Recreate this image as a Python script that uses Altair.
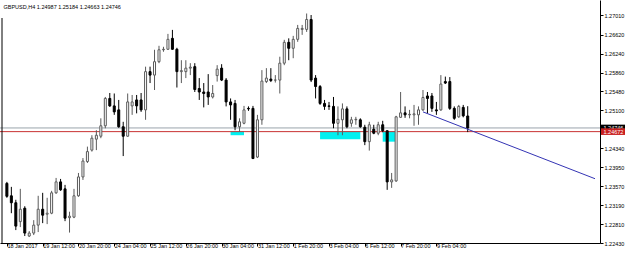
import altair as alt
import pandas as pd

symbol = "GBPUSD,H4"

opens = [1.2363, 1.2338, 1.2324, 1.2286, 1.2313, 1.2257, 1.2263, 1.2279, 1.2311, 1.2301,
         1.2303, 1.2344, 1.2366, 1.2352, 1.2294, 1.2295, 1.2338, 1.2376, 1.2407, 1.2430,
         1.2452, 1.2458, 1.2479, 1.2534, 1.2519, 1.2511, 1.2477, 1.2458, 1.2519, 1.2531,
         1.2531, 1.2511, 1.2588, 1.2581, 1.2608, 1.2632, 1.2633, 1.2655, 1.2633, 1.2588,
         1.2588, 1.2595, 1.2598, 1.2554, 1.2547, 1.2547, 1.2537, 1.2580, 1.2595, 1.2571,
         1.2527, 1.2524, 1.2477, 1.2484, 1.2514, 1.2514, 1.2416, 1.2491, 1.2568, 1.2573,
         1.2571, 1.2571, 1.2605, 1.2647, 1.2635, 1.2653, 1.2673, 1.2673, 1.2693, 1.2575,
         1.2558, 1.2524, 1.2519, 1.2518, 1.2484, 1.2491, 1.2513, 1.2484, 1.2491, 1.2491,
         1.2476, 1.2447, 1.2472, 1.2464, 1.2481, 1.2469, 1.2366, 1.2368, 1.2496, 1.2505,
         1.2501, 1.2501, 1.2501, 1.2511, 1.2539, 1.2539, 1.2511, 1.2511, 1.2568, 1.2568,
         1.2514, 1.2497, 1.2516, 1.24987]
highs = [1.2366, 1.2356, 1.2330, 1.2352, 1.2317, 1.2267, 1.2289, 1.2338, 1.2344, 1.2334,
         1.2348, 1.2374, 1.2372, 1.2360, 1.2306, 1.2352, 1.2384, 1.2414, 1.2437, 1.2460,
         1.2470, 1.2494, 1.2537, 1.2545, 1.2544, 1.2531, 1.2487, 1.2544, 1.2541, 1.2541,
         1.2545, 1.2598, 1.2598, 1.2632, 1.2640, 1.2638, 1.2664, 1.2672, 1.2636, 1.2611,
         1.2611, 1.2605, 1.2605, 1.2575, 1.2565, 1.2583, 1.2561, 1.2601, 1.2603, 1.2575,
         1.2534, 1.2531, 1.2494, 1.2519, 1.2518, 1.2519, 1.2501, 1.2591, 1.2595, 1.2595,
         1.2581, 1.2618, 1.2652, 1.2655, 1.2660, 1.2682, 1.2682, 1.2705, 1.2702, 1.2581,
         1.2561, 1.2531, 1.2527, 1.2537, 1.2518, 1.2524, 1.2518, 1.2497, 1.2497, 1.2494,
         1.2481, 1.2487, 1.2481, 1.2487, 1.2489, 1.2470, 1.2384, 1.2499, 1.2547, 1.2518,
         1.2511, 1.2521, 1.2518, 1.2551, 1.2547, 1.2545, 1.2527, 1.2581, 1.2578, 1.2577,
         1.2518, 1.2521, 1.2521, 1.25184]
lows = [1.2334, 1.2303, 1.2269, 1.2275, 1.2257, 1.2255, 1.2259, 1.2265, 1.2283, 1.2281,
        1.2301, 1.2342, 1.2348, 1.2287, 1.2264, 1.2293, 1.2336, 1.2370, 1.2404, 1.2427,
        1.2430, 1.2454, 1.2474, 1.2517, 1.2501, 1.2475, 1.2418, 1.2457, 1.2501, 1.2504,
        1.2507, 1.2491, 1.2565, 1.2551, 1.2605, 1.2628, 1.2632, 1.2632, 1.2556, 1.2565,
        1.2575, 1.2581, 1.2547, 1.2531, 1.2516, 1.2521, 1.2534, 1.2568, 1.2569, 1.2518,
        1.2491, 1.2470, 1.2467, 1.2482, 1.2509, 1.2412, 1.2414, 1.2481, 1.2565, 1.2567,
        1.2566, 1.2544, 1.2601, 1.2611, 1.2615, 1.2648, 1.2662, 1.2668, 1.2567, 1.2534,
        1.2521, 1.2511, 1.2511, 1.2474, 1.2460, 1.2460, 1.2474, 1.2477, 1.2481, 1.2475,
        1.2440, 1.2429, 1.2462, 1.2460, 1.2466, 1.2350, 1.2354, 1.2366, 1.2495, 1.2495,
        1.2494, 1.2479, 1.2481, 1.2509, 1.2504, 1.2507, 1.2501, 1.2509, 1.2563, 1.2511,
        1.2491, 1.2495, 1.2496, 1.24663]
closes = [1.2337, 1.2324, 1.2277, 1.2311, 1.2263, 1.2263, 1.2279, 1.2311, 1.2299, 1.2303,
          1.2344, 1.2366, 1.2350, 1.2293, 1.2297, 1.2338, 1.2376, 1.2408, 1.2427, 1.2454,
          1.2460, 1.2479, 1.2534, 1.2519, 1.2507, 1.2477, 1.2458, 1.2527, 1.2527, 1.2519,
          1.2511, 1.2588, 1.2581, 1.2608, 1.2632, 1.2633, 1.2653, 1.2633, 1.2588, 1.2590,
          1.2595, 1.2597, 1.2552, 1.2547, 1.2544, 1.2537, 1.2544, 1.2593, 1.2571, 1.2527,
          1.2521, 1.2477, 1.2487, 1.2511, 1.2513, 1.2413, 1.2491, 1.2569, 1.2575, 1.2570,
          1.2571, 1.2605, 1.2647, 1.2635, 1.2653, 1.2675, 1.2675, 1.2693, 1.2571, 1.2558,
          1.2524, 1.2518, 1.2518, 1.2484, 1.2492, 1.2513, 1.2477, 1.2491, 1.2492, 1.2477,
          1.2447, 1.2481, 1.2464, 1.2481, 1.2469, 1.2366, 1.2370, 1.2497, 1.2505, 1.2501,
          1.2502, 1.2503, 1.2511, 1.2536, 1.2534, 1.2514, 1.2509, 1.2563, 1.2565, 1.2514,
          1.2494, 1.2518, 1.2499, 1.24746]

x_tick_bars = [0, 8, 16, 24, 32, 40, 48, 56, 64, 72, 80, 88, 96]
x_tick_labels = ["18 Jan 2017", "19 Jan 12:00", "20 Jan 20:00", "24 Jan 04:00",
                 "25 Jan 12:00", "26 Jan 20:00", "30 Jan 04:00", "31 Jan 12:00",
                 "1 Feb 20:00", "3 Feb 04:00", "6 Feb 12:00", "7 Feb 20:00", "9 Feb 04:00"]
y_ticks = [1.22430, 1.22810, 1.23190, 1.23570, 1.23950, 1.24340,
           1.25100, 1.25480, 1.25860, 1.26240, 1.26620, 1.27010]

bid_price = 1.24746
hline_price = 1.24672
trend_bars = [93, 103]
trend_prices = [1.2507, 1.2472]
rect_start = [50, 70, 84]
rect_end = [53, 79, 87]
rect_top = [1.2468, 1.2468, 1.2468]
rect_bottom = [1.2460, 1.2452, 1.2447]

X_DOMAIN = [-0.42, 131.45]
Y_DOMAIN = [1.2243, 1.27322]
FONT = "Liberation Sans"
FS = 5.5

candles = pd.DataFrame({
    "i": list(range(len(opens))),
    "o": opens, "h": highs, "l": lows, "c": closes,
})
up = candles[candles.c >= candles.o]
down = candles[candles.c < candles.o]

label_expr = "[" + ",".join("'%s'" % s for s in x_tick_labels) + "][round(datum.value/8)]"

x_axis = alt.Axis(values=x_tick_bars, labelExpr=label_expr, grid=False, title=None,
                  domainColor="black", tickColor="black", tickSize=3, labelAlign="left",
                  labelBaseline="top", labelPadding=-3,
                  labelFont=FONT, labelFontSize=FS, labelColor="black",
                  labelOverlap=False, labelFlush=False)
y_axis = alt.Axis(values=y_ticks, format=".5f", orient="right", grid=False, title=None,
                  domainColor="black", tickColor="black", tickSize=3, labelAlign="left",
                  labelBaseline="middle", labelPadding=1, labelFont=FONT,
                  labelFontSize=FS, labelColor="black", labelOverlap=False,
                  labelFlush=False)

xs = alt.Scale(domain=X_DOMAIN, nice=False, zero=False)
ys = alt.Scale(domain=Y_DOMAIN, nice=False, zero=False)

UP_EDGE = "#5a5a5a"

wick_up = alt.Chart(up).mark_rule(strokeWidth=1, color=UP_EDGE).encode(
    x=alt.X("i:Q", scale=xs, axis=x_axis),
    y=alt.Y("l:Q", scale=ys, axis=y_axis),
    y2="h:Q")
wick_down = alt.Chart(down).mark_rule(strokeWidth=1, color="#000000").encode(
    x=alt.X("i:Q", scale=xs, axis=x_axis),
    y=alt.Y("l:Q", scale=ys, axis=y_axis),
    y2="h:Q")
body_up = alt.Chart(up).mark_bar(size=2, strokeWidth=1, fill="#ffffff", stroke=UP_EDGE).encode(
    x=alt.X("i:Q", scale=xs, axis=x_axis),
    y=alt.Y("o:Q", scale=ys, axis=y_axis),
    y2="c:Q")
body_down = alt.Chart(down).mark_bar(size=2, strokeWidth=1, fill="#000000", stroke="#000000").encode(
    x=alt.X("i:Q", scale=xs, axis=x_axis),
    y=alt.Y("o:Q", scale=ys, axis=y_axis),
    y2="c:Q")

rects = alt.Chart(pd.DataFrame({"s": rect_start, "e": rect_end,
                                "t": rect_top, "b": rect_bottom})).mark_rect(
    color="#00f0f0", opacity=1).encode(
    x=alt.X("s:Q", scale=xs, axis=x_axis), x2="e:Q",
    y=alt.Y("t:Q", scale=ys, axis=y_axis), y2="b:Q")

bid_line = alt.Chart(pd.DataFrame({"p": [bid_price]})).mark_rule(
    strokeWidth=1, color="#9aa4ac").encode(y=alt.Y("p:Q", scale=ys, axis=y_axis))
red_line = alt.Chart(pd.DataFrame({"p": [hline_price]})).mark_rule(
    strokeWidth=1, color="#c83232").encode(y=alt.Y("p:Q", scale=ys, axis=y_axis))

slope = (trend_prices[1] - trend_prices[0]) / (trend_bars[1] - trend_bars[0])
trend_df = pd.DataFrame({
    "i": [trend_bars[0], X_DOMAIN[1]],
    "p": [trend_prices[0], trend_prices[0] + slope * (X_DOMAIN[1] - trend_bars[0])],
})
trend = alt.Chart(trend_df).mark_line(color="#3434b4", strokeWidth=1, clip=True).encode(
    x=alt.X("i:Q", scale=xs, axis=x_axis), y=alt.Y("p:Q", scale=ys, axis=y_axis))

left_border = alt.Chart(pd.DataFrame({"a": [0]})).mark_rule(color="black", strokeWidth=1).encode(
    x=alt.value(2), y=alt.value(18), y2=alt.value(243))

half = 3.3 / (243 / (Y_DOMAIN[1] - Y_DOMAIN[0]))
boxes = []
for price, col in [(bid_price, "#000000"), (hline_price, "#c81e1e")]:
    sub = pd.DataFrame({"p": [price], "t": [price + half], "b": [price - half],
                        "txt": ["%.5f" % price]})
    boxes.append(alt.Chart(sub).mark_rect(color=col).encode(
        x=alt.value(601), x2=alt.value(625),
        y=alt.Y("t:Q", scale=ys, axis=y_axis), y2="b:Q"))
    boxes.append(alt.Chart(sub).mark_text(align="left", baseline="middle", color="white",
                                          font=FONT, fontSize=FS).encode(
        x=alt.value(603.5), y=alt.Y("p:Q", scale=ys, axis=y_axis), text="txt:N"))

title_txt = "%s  %.5f %.5f %.5f %.5f" % (symbol, opens[-1], highs[-1], lows[-1], closes[-1])
title = alt.Chart(pd.DataFrame({"t": [title_txt]})).mark_text(
    align="left", baseline="middle", color="black", font=FONT, fontSize=FS).encode(
    x=alt.value(3.5), y=alt.value(6.5), text="t:N")

chart = alt.layer(rects, bid_line, red_line, wick_up, wick_down, body_up, body_down,
                  trend, left_border, *boxes, title).properties(
    width=600, height=243,
    padding={"left": 0, "top": 0, "right": 25, "bottom": 12},
    autosize=alt.AutoSizeParams(type="none"),
    background="white",
).configure_view(stroke=None).configure_axis(labelOverlap=False)

chart.save("out.html", embed_options={"renderer": "svg", "actions": False})
